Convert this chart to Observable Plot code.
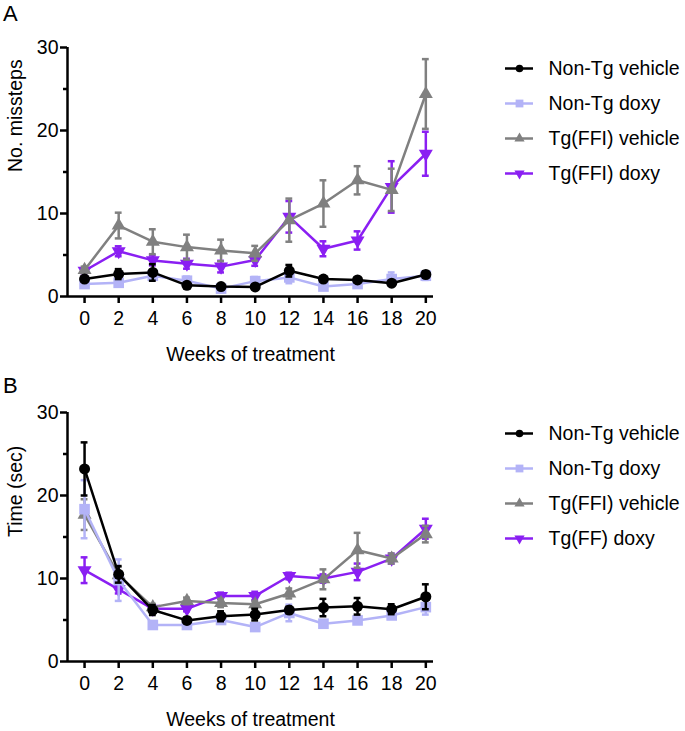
<!DOCTYPE html>
<html>
<head>
<meta charset="utf-8">
<script src="https://cdn.jsdelivr.net/npm/d3@7"></script>
<script src="https://cdn.jsdelivr.net/npm/@observablehq/plot@0.6"></script>
<style>
  html, body { margin: 0; padding: 0; background: #fff; }
  #root { position: relative; width: 685px; height: 731px; font-family: "Liberation Sans", Arial, Helvetica, sans-serif; }
  .panel { position: absolute; left: 0; width: 685px; height: 365px; }
  .legend { position: absolute; left: 480px; top: 50px; }
  .plabel { position: absolute; left: 3px; font-size: 22px; line-height: 1; }
  svg { overflow: visible; }
</style>
</head>
<body>
<div id="root">
  <div class="panel" id="panelA" style="top:0px"></div>
  <div class="panel" id="panelB" style="top:365px"></div>
</div>
<script>
// ---------------- data ----------------
const weeks = [0, 2, 4, 6, 8, 10, 12, 14, 16, 18, 20];
const yTicks = [0, 10, 20, 30];
const yMinorTicks = [5, 15, 25];

const seriesNamesA = ["Non-Tg vehicle", "Non-Tg doxy", "Tg(FFI) vehicle", "Tg(FFI) doxy"];
const seriesNamesB = ["Non-Tg vehicle", "Non-Tg doxy", "Tg(FFI) vehicle", "Tg(FF) doxy"];
const seriesColors = ["#000000", "#b3b3f7", "#808080", "#8a1ff2"];
const seriesSymbols = ["circle", "square", "triangle", "triangle"];
const seriesRotate = [0, 0, 0, 180];

// Panel A: No. missteps (mean, SEM)
const nonTgVehA    = [2.1, 2.7, 2.9, 1.35, 1.2, 1.15, 3.1, 2.1, 2.0, 1.6, 2.65];
const nonTgVehAErr = [0.3, 0.6, 1.0, 0.3, 0.2, 0.2, 0.7, 0.3, 0.3, 0.3, 0.4];
const nonTgDoxA    = [1.5, 1.65, 2.5, 1.9, 0.95, 1.85, 2.3, 1.2, 1.5, 2.1, 2.5];
const nonTgDoxAErr = [0.3, 0.3, 0.5, 0.5, 0.4, 0.5, 0.7, 0.3, 0.3, 0.8, 0.5];
const tgVehA       = [3.2, 8.55, 6.6, 5.95, 5.55, 5.2, 9.2, 11.2, 14.0, 12.85, 24.4];
const tgVehAErr    = [0.4, 1.55, 1.5, 1.5, 1.3, 0.9, 2.6, 2.8, 1.7, 2.55, 4.2];
const tgDoxA       = [3.1, 5.45, 4.35, 3.95, 3.6, 4.4, 9.6, 5.75, 6.75, 13.2, 17.2];
const tgDoxAErr    = [0.3, 0.6, 0.6, 0.6, 0.7, 0.7, 1.9, 0.9, 1.1, 3.1, 2.65];

// Panel B: Time (sec)
const nonTgVehB    = [23.2, 10.5, 6.2, 4.95, 5.45, 5.65, 6.2, 6.5, 6.65, 6.3, 7.8];
const nonTgVehBErr = [3.2, 1.0, 0.6, 0.3, 0.6, 0.7, 0.4, 1.05, 1.0, 0.6, 1.5];
const nonTgDoxB    = [18.35, 9.8, 4.4, 4.4, 5.0, 4.15, 5.85, 4.55, 4.95, 5.55, 6.55];
const nonTgDoxBErr = [3.5, 2.5, 0.4, 0.3, 0.4, 0.4, 1.0, 0.3, 0.4, 0.4, 0.9];
const tgVehB       = [17.7, 10.4, 6.55, 7.3, 7.05, 6.9, 8.2, 9.9, 13.4, 12.4, 15.35];
const tgVehBErr    = [1.85, 1.0, 0.4, 0.4, 0.5, 0.4, 0.6, 1.2, 2.1, 0.6, 1.0];
const tgDoxB       = [11.0, 8.7, 6.35, 6.35, 7.9, 7.9, 10.3, 10.0, 10.8, 12.4, 16.0];
const tgDoxBErr    = [1.55, 0.5, 0.4, 0.3, 0.4, 0.5, 0.4, 0.5, 1.0, 0.6, 1.2];

const xLabel = "Weeks of treatment";
const yLabelA = "No. missteps";
const yLabelB = "Time (sec)";

// ---------------- style ----------------
const FONT = "'Liberation Sans', Arial, Helvetica, sans-serif";
const FS = 19.5;
const SW = 2.5;
const CAP = 0.2; // half cap width in weeks
const dotR = [5.5, 6, 5.2, 5.2];
const legR = [3.8, 4.4, 3.8, 3.8];

function rows(vals, errs) {
  return weeks.map((w, i) => ({w, v: vals[i], e: errs[i]}));
}

function seriesMarks(data, i) {
  const c = seriesColors[i];
  return [
    Plot.ruleX(data, {x: "w", y1: d => d.v - d.e, y2: d => d.v + d.e, stroke: c, strokeWidth: SW}),
    Plot.ruleY(data, {y: d => d.v + d.e, x1: d => d.w - CAP, x2: d => d.w + CAP, stroke: c, strokeWidth: SW}),
    Plot.ruleY(data, {y: d => d.v - d.e, x1: d => d.w - CAP, x2: d => d.w + CAP, stroke: c, strokeWidth: SW}),
    Plot.line(data, {x: "w", y: "v", stroke: c, strokeWidth: SW}),
    Plot.dot(data, {x: "w", y: "v", symbol: seriesSymbols[i], r: dotR[i], fill: c, stroke: "none", rotate: seriesRotate[i]})
  ];
}

function panel(seriesList, yLabel) {
  // draw order: last series at bottom, first series on top
  const order = [3, 2, 1, 0];
  return Plot.plot({
    width: 685, height: 365,
    marginLeft: 67, marginRight: 252, marginTop: 47, marginBottom: 69,
    x: {domain: [-1, 20.45], axis: null},
    y: {domain: [0, 30], axis: null},
    style: {fontFamily: FONT, fontSize: FS + "px", color: "#000", background: "transparent", overflow: "visible"},
    marks: [
      Plot.axisX({ticks: weeks, tickSize: 7, tickPadding: 8, strokeWidth: SW, label: null, fontSize: FS, tickFormat: d => String(d)}),
      Plot.axisY({ticks: yTicks, tickSize: 7, tickPadding: 2, strokeWidth: SW, label: null, fontSize: FS}),
      Plot.axisY({ticks: yMinorTicks, tickSize: 4, strokeWidth: SW, label: null, tickFormat: () => ""}),
      Plot.ruleX([-1], {y1: 0, y2: 30, strokeWidth: SW, stroke: "#000"}),
      Plot.ruleY([0], {x1: -1, x2: 20.45, strokeWidth: SW, stroke: "#000"}),
      ...order.flatMap(i => seriesMarks(seriesList[i], i)),
      Plot.text([yLabel], {text: d => d, frameAnchor: "left", rotate: -90, dx: -52, fontSize: FS, fill: "#000"}),
      Plot.text([xLabel], {text: d => d, frameAnchor: "bottom", dy: 64, fontSize: FS, fill: "#000"})
    ]
  });
}

function legend(names) {
  const items = names.map((name, i) => ({name, i}));
  return Plot.plot({
    width: 205, height: 141,
    marginLeft: 25, marginRight: 152, marginTop: 18, marginBottom: 18,
    x: {domain: [0, 1], axis: null},
    y: {type: "point", domain: names, padding: 0, axis: null},
    style: {fontFamily: FONT, fontSize: FS + "px", color: "#000", background: "transparent", overflow: "visible"},
    marks: items.flatMap(({name, i}) => [
      Plot.ruleY([name], {y: d => d, x1: 0, x2: 1, stroke: seriesColors[i], strokeWidth: SW}),
      Plot.dot([name], {y: d => d, x: 0.5, symbol: seriesSymbols[i], r: legR[i], fill: seriesColors[i], stroke: "none", rotate: seriesRotate[i]}),
      Plot.text([name], {y: d => d, x: 1, text: d => d, dx: 15, textAnchor: "start", fontSize: FS, fill: "#000"})
    ])
  });
}

function build(containerId, seriesList, names, yLabel, letter) {
  const el = document.getElementById(containerId);
  el.appendChild(panel(seriesList, yLabel));
  const lg = document.createElement("div");
  lg.className = "legend";
  lg.appendChild(legend(names));
  el.appendChild(lg);
  const lab = document.createElement("div");
  lab.className = "plabel";
  lab.style.top = letter === "A" ? "3px" : "10px";
  lab.textContent = letter;
  el.appendChild(lab);
}

build("panelA", [
  rows(nonTgVehA, nonTgVehAErr),
  rows(nonTgDoxA, nonTgDoxAErr),
  rows(tgVehA, tgVehAErr),
  rows(tgDoxA, tgDoxAErr)
], seriesNamesA, yLabelA, "A");

build("panelB", [
  rows(nonTgVehB, nonTgVehBErr),
  rows(nonTgDoxB, nonTgDoxBErr),
  rows(tgVehB, tgVehBErr),
  rows(tgDoxB, tgDoxBErr)
], seriesNamesB, yLabelB, "B");
</script>
</body>
</html>
